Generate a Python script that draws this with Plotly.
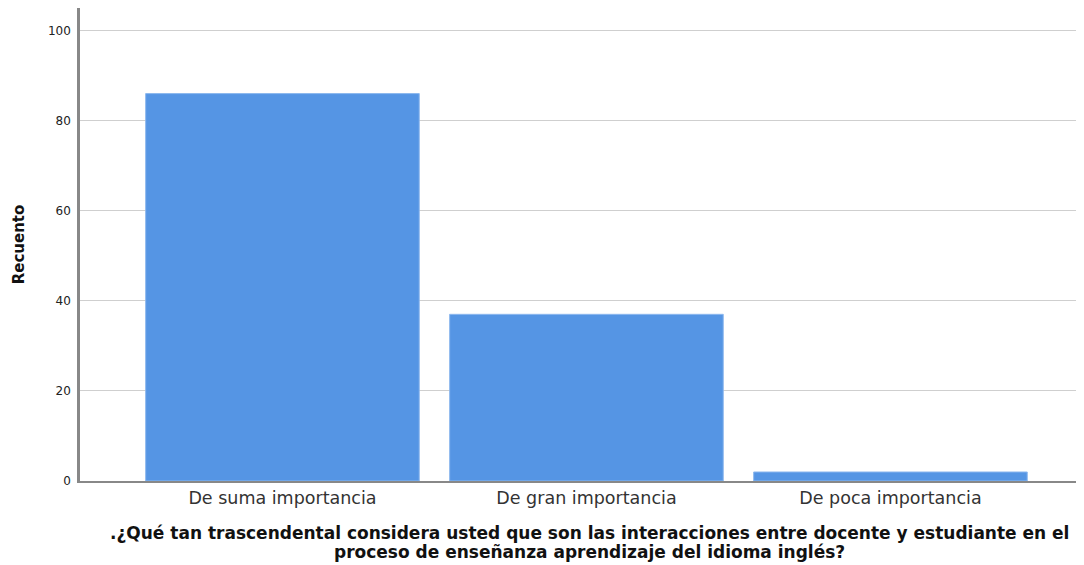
import plotly.graph_objects as go

categories = ["De suma importancia", "De gran importancia", "De poca importancia"]
counts = [86, 37, 2]
y_ticks = [0, 20, 40, 60, 80, 100]
x_title_lines = [
    ".¿Qué tan trascendental considera usted que son las interacciones entre docente y estudiante en el",
    "proceso de enseñanza aprendizaje del idioma inglés?",
]
y_title = "Recuento"

W, H = 1084, 557
ML, MT, MB = 72, 0, 84
plot_h = H - MT - MB

fig = go.Figure(go.Bar(
    x=categories, y=counts,
    marker=dict(color="#5595E4", line=dict(color="#8DB8EE", width=1)),
))

fig.update_layout(
    width=W, height=H,
    margin=dict(l=ML, r=0, t=MT, b=MB),
    paper_bgcolor="white", plot_bgcolor="white",
    bargap=0.1,
    showlegend=False,
    font=dict(family="DejaVu Sans, Arial, sans-serif", color="#222"),
)
fig.update_xaxes(
    range=[-0.666, 2.663],
    showline=True, linecolor="#888", linewidth=1.5,
    tickfont=dict(size=17.5, color="#333"),
    ticks="", showgrid=False,
)
fig.update_yaxes(
    range=[0, 105],
    tickvals=y_ticks,
    showline=True, linecolor="#888", linewidth=2.5,
    gridcolor="#cfcfcf", gridwidth=1,
    tickfont=dict(size=12, color="#222"),
    ticks="outside", ticklen=4, tickcolor="white",
    zeroline=False,
    title=dict(text="<b>" + y_title + "</b>", font=dict(size=15, color="#111"), standoff=20),
)

for line, py in zip(x_title_lines, [525, 544]):
    fig.add_annotation(
        text="<b>" + line + "</b>",
        xref="paper", yref="paper",
        x=0.503, y=(plot_h - py) / plot_h,
        xanchor="center", yanchor="middle",
        showarrow=False,
        font=dict(size=17, color="#111", family="DejaVu Sans, Arial, sans-serif"),
    )

fig.write_html("out.html")
